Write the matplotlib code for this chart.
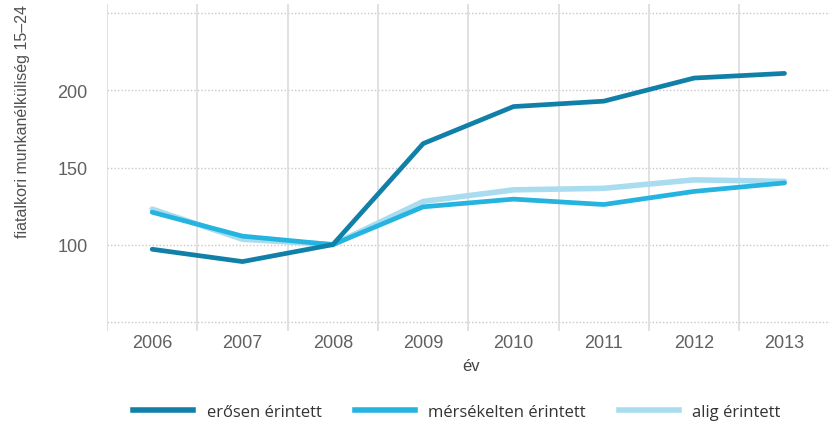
import numpy as np
import matplotlib.pyplot as plt
from matplotlib.ticker import FixedLocator

years = ['2006', '2007', '2008', '2009', '2010', '2011', '2012', '2013']
eros = [97, 89, 100, 165.5, 189.5, 193, 208, 211]
merseklet = [121, 105.5, 100, 124.5, 129.5, 126, 134.5, 140]
alig = [123, 103.5, 100, 128, 135.5, 136.5, 142, 141]

labels = ['erősen érintett', 'mérsékelten érintett', 'alig érintett']
colors = ['#1180a8', '#25b3e0', '#a9dcef']
y_ticks = [100, 150, 200]

fig = plt.figure(figsize=(8.3, 4.27), dpi=100)
ax = fig.add_axes([107 / 830, 1 - 332 / 427, (836 - 107) / 830, (332 - 5) / 427])

x = np.arange(len(years))
# light first, darker lines on top
ax.plot(x, alig, color=colors[2], lw=4, solid_capstyle='round', zorder=3)
ax.plot(x, merseklet, color=colors[1], lw=3.4, solid_capstyle='round', zorder=4)
ax.plot(x, eros, color=colors[0], lw=3.4, solid_capstyle='round', zorder=5)

ax.set_xlim(-0.5, len(years) - 0.43)
ax.set_ylim(44, 256)

# horizontal dotted grid
for v in [50, 100, 150, 200, 250]:
    ax.axhline(v, color='#c8c8c8', lw=1, ls=(0, (1, 1.5)), zorder=1)
# vertical separators between years
for b in np.arange(len(years)) - 0.5:
    ax.axvline(b, color='#dcdcdc', lw=1.2, zorder=1)

ax.set_xticks(x)
ax.set_xticklabels(years)
ax.yaxis.set_major_locator(FixedLocator(y_ticks))
ax.tick_params(length=0, labelsize=13, labelcolor='#606060')
ax.tick_params(axis='x', pad=2)
ax.tick_params(axis='y', pad=14)
for t in ax.get_xticklabels() + ax.get_yticklabels():
    t.set_family('Liberation Sans')
for s in ax.spines.values():
    s.set_visible(False)

fig.text(471 / 830, 1 - 367 / 427, 'év', ha='center', va='center',
         fontsize=12, color='#444444', family='Liberation Sans')
fig.text(23 / 830, 1 - 121 / 427, 'fiatalkori munkanélküliség 15–24', rotation=90,
         ha='center', va='center', fontsize=11.5, color='#505050',
         family='Liberation Sans')

handles = [plt.Line2D([], [], color=c, lw=4) for c in colors]
leg = fig.legend(handles, labels, loc='center', bbox_to_anchor=(457 / 830, 1 - 413 / 427),
                 ncol=3, frameon=False, handlelength=3.6, handletextpad=0.8,
                 columnspacing=2.0, prop={'family': 'Open Sans', 'size': 12})
for t in leg.get_texts():
    t.set_color('#333333')

fig.savefig('out.png', dpi=100)
